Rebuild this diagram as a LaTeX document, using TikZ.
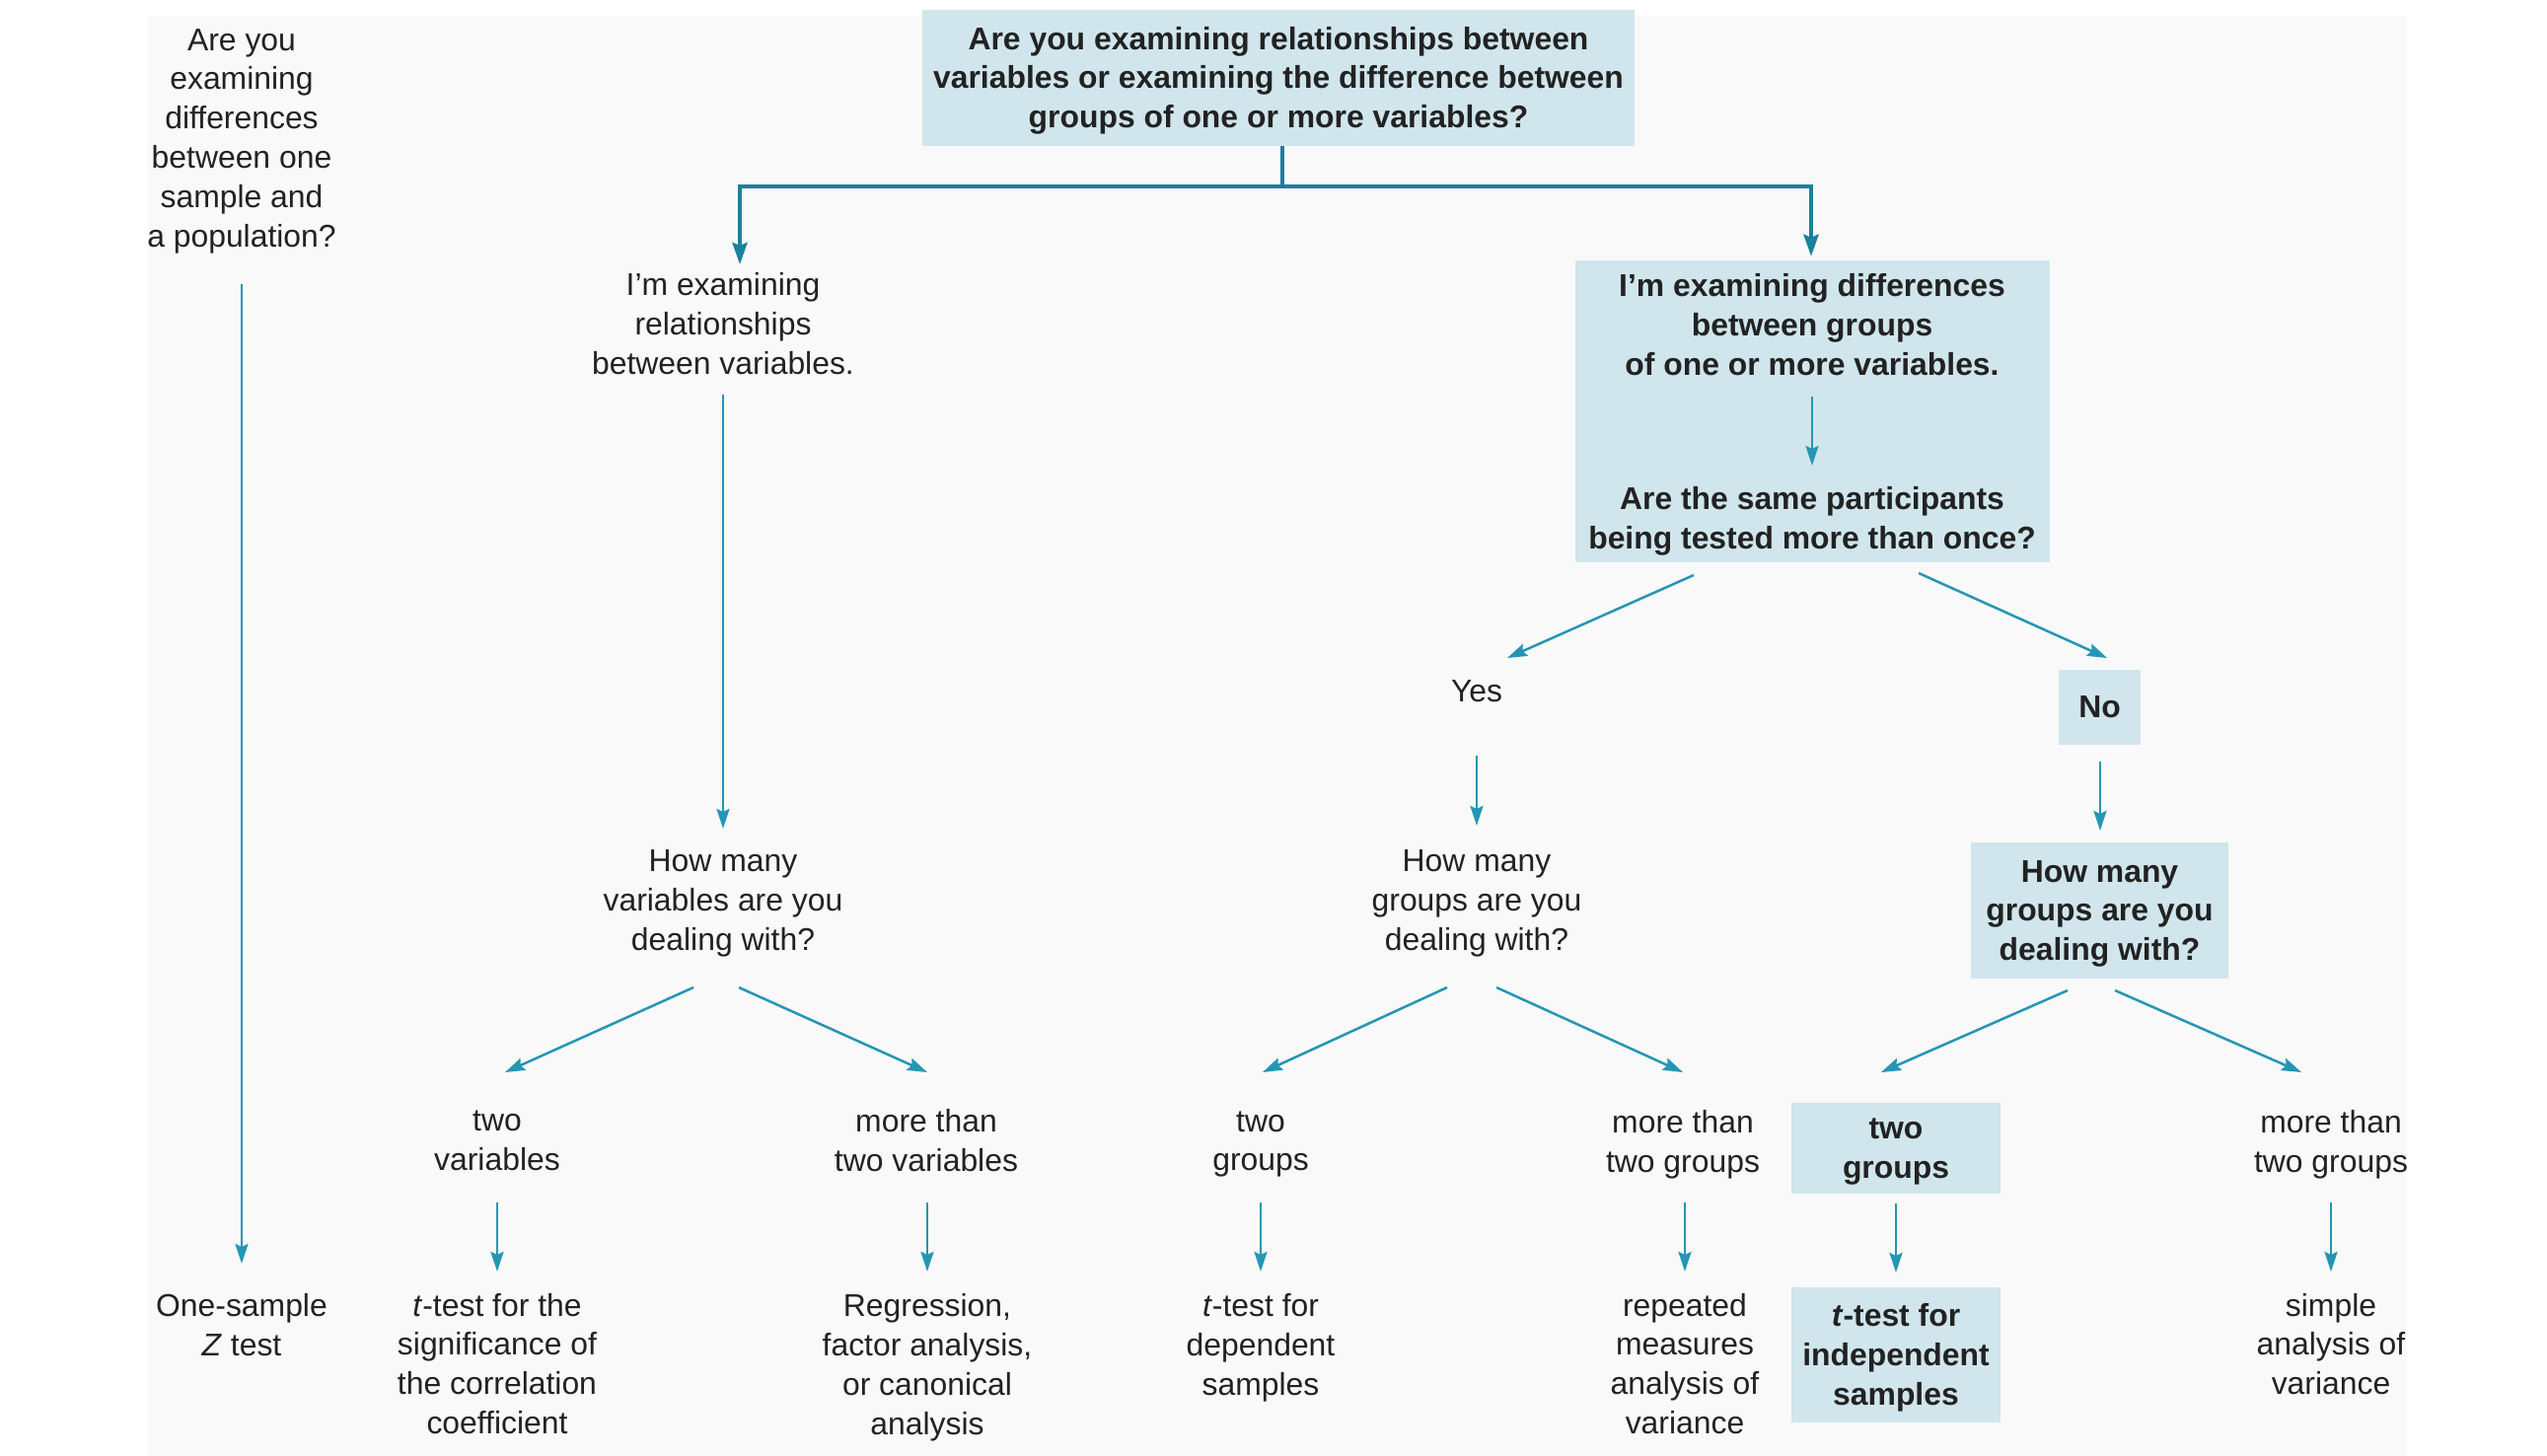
\documentclass[tikz,border=0pt]{standalone}
\usepackage{fontspec}
\setmainfont{Liberation Sans}
\usetikzlibrary{arrows.meta,calc}
\definecolor{flow}{HTML}{2496B4}
\definecolor{flowdark}{HTML}{1B819C}
\definecolor{boxfill}{HTML}{D0E6EC}
\definecolor{ink}{HTML}{222222}
\definecolor{panel}{HTML}{F9F9F9}
% extra room above the first line of boxed text, so it sits a little lower in its box
\newcommand{\lowerfirst}{\rule{0pt}{28.5bp}}

\begin{document}
\begin{tikzpicture}[x=1bp,y=-1bp,
  txt/.style={align=center, inner sep=0pt, text=ink, font=\fontsize{32}{40}\selectfont, yshift=-4bp},
  btxt/.style={align=center, inner sep=0pt, text=ink, font=\fontsize{32}{40}\selectfont\bfseries},
  shade/.style={fill=boxfill, draw=none, inner sep=0pt},
  link/.style={draw=flow, line width=2.5bp, -{Stealth[length=20bp,width=13bp,inset=3bp]}},
  trunk/.style={draw=flowdark, line width=4bp, -{Stealth[length=22bp,width=15bp,inset=3bp]}},
]
\useasboundingbox (0,0) rectangle (2582,1476);
\fill[white] (0,0) rectangle (2582,1476);
\fill[panel] (150,16) rectangle (2439,1476);

% ---- question at the root
\node[btxt, shade, minimum width=722bp, minimum height=138bp] (top) at (1296,79)
  {\lowerfirst Are you examining relationships between\\variables or examining the difference between\\groups of one or more variables?};

% ---- one sample vs population
\node[txt] (q0) at (245,139) {Are you\\examining\\differences\\between one\\sample and\\a population?};
\node[txt] (z) at (245,1339) {One-sample\\\textit{Z} test};

% ---- relationships branch
\node[txt] (rel) at (733,324) {I’m examining\\relationships\\between variables.};
\node[txt] (hmv) at (733,912) {How many\\variables are you\\dealing with?};
\node[txt] (twov) at (504,1152.5) {two\\variables};
\node[txt] (morev) at (939,1152.5) {more than\\two variables};
\node[txt] (corr) at (504,1378.5) {\textit{t}-test for the\\significance of\\the correlation\\coefficient};
\node[txt] (regr) at (940,1382) {Regression,\\factor analysis,\\or canonical\\analysis};

% ---- group differences branch
\node[shade, minimum width=481bp, minimum height=306bp] (bigbox) at (1837.5,417) {};
\node[btxt] (diff) at (1837,329) {I’m examining differences\\between groups\\of one or more variables.};
\node[btxt] (same) at (1837,528.5) {Are the same participants\\being tested more than once?};

\node[txt] (yes) at (1497,697) {Yes};
\node[btxt, shade, minimum width=83bp, minimum height=76bp] (no) at (2128.5,717) {No};

\node[txt] (hmg) at (1497,912) {How many\\groups are you\\dealing with?};
\node[btxt, shade, minimum width=261bp, minimum height=138bp] (hmgb) at (2128.5,923)
  {\lowerfirst How many\\groups are you\\dealing with?};

\node[txt] (twog) at (1278,1156) {two\\groups};
\node[txt] (moreg) at (1706,1156) {more than\\two groups};
\node[btxt, shade, minimum width=212bp, minimum height=92bp] (twogb) at (1922,1164) {\lowerfirst two\\groups};
\node[txt] (moregb) at (2363,1156) {more than\\two groups};

\node[txt] (tdep) at (1278,1362) {\textit{t}-test for\\dependent\\samples};
\node[txt] (rep) at (1708,1378.5) {repeated\\measures\\analysis of\\variance};
\node[btxt, shade, minimum width=212bp, minimum height=137bp] (tind) at (1922,1373.5)
  {\lowerfirst\textit{t}-test for\\independent\\samples};
\node[txt] (anova) at (2363,1358.5) {simple\\analysis of\\variance};

% ---- trunk split from the root question
\draw[trunk] ($(top.south)+(4,0)$) -- ++(0,41) -| ($(rel)+(17,-60)$);
\draw[trunk] ($(top.south)+(4,0)$) -- ++(0,41) -| ($(bigbox.north)+(-1.5,-4)$);

% ---- connectors (offsets measured from node centres)
\draw[link] ($(q0)+(0,145)$) -- ($(z)+(0,-62)$);

\draw[link] ($(rel)+(0,72)$) -- ($(hmv)+(0,-76)$);
\draw[link] ($(hmv)+(-30,85)$) -- ($(twov)+(8,-69.5)$);
\draw[link] ($(hmv)+(16,85)$) -- ($(morev)+(1,-69.5)$);
\draw[link] ($(twov)+(0,62.5)$) -- ($(corr)+(0,-93.5)$);
\draw[link] ($(morev)+(1,62.5)$) -- ($(regr)+(0,-97)$);

\draw[link] ($(diff)+(0,73)$) -- ($(same)+(0,-56.5)$);
\draw[link] ($(bigbox)+(-120.5,166)$) -- ($(yes)+(31,-34)$);
\draw[link] ($(bigbox)+(107.5,164)$) -- ($(no)+(7.5,-50)$);

\draw[link] ($(yes)+(0,65)$) -- ($(hmg)+(0,-79)$);
\draw[link] ($(no)+(0.5,55)$) -- ($(hmgb)+(0.5,-81)$);

\draw[link] ($(hmg)+(-30,85)$) -- ($(twog)+(2,-73)$);
\draw[link] ($(hmg)+(20,85)$) -- ($(moreg)+(0,-73)$);
\draw[link] ($(hmgb)+(-32.5,81)$) -- ($(twogb)+(-15,-77)$);
\draw[link] ($(hmgb)+(15.5,81)$) -- ($(moregb)+(-30,-73)$);

\draw[link] ($(twog)+(0,59)$) -- ($(tdep)+(0,-77)$);
\draw[link] ($(moreg)+(2,59)$) -- ($(rep)+(0,-93.5)$);
\draw[link] ($(twogb)+(0,56)$) -- ($(tind)+(0,-83.5)$);
\draw[link] ($(moregb)+(0,59)$) -- ($(anova)+(0,-73.5)$);
\end{tikzpicture}
\end{document}
